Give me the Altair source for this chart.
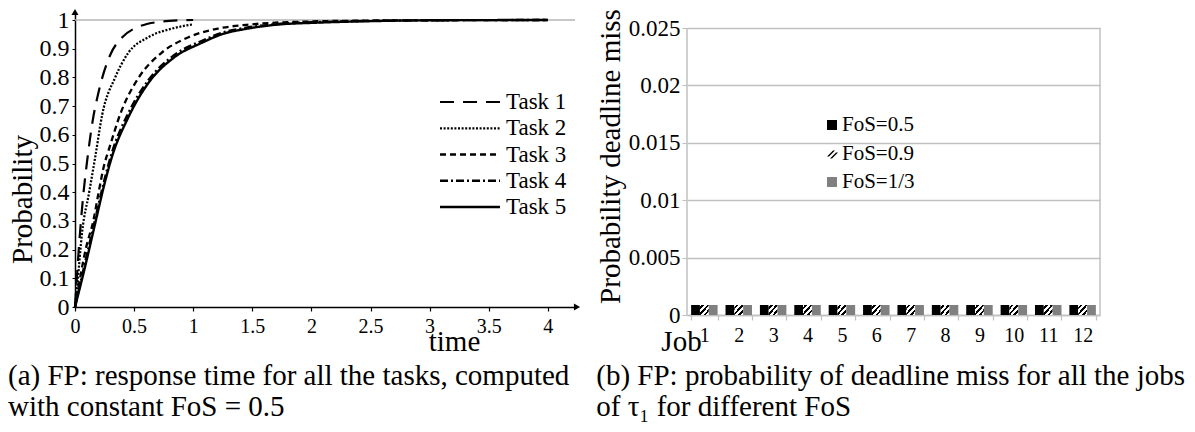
import altair as alt
import pandas as pd

FONT = "Liberation Serif"

# ---------------- left panel data ----------------
tasks = ["Task 1", "Task 2", "Task 3", "Task 4", "Task 5"]
t1 = [0, 0.03, 0.07, 0.1, 0.15, 0.2, 0.3, 0.4, 0.5, 0.6, 0.7, 0.8, 1.0]
p1 = [0, 0.19, 0.39, 0.5, 0.65, 0.75, 0.88, 0.94, 0.97, 0.985, 0.993, 0.997, 1.0]
t2 = [0, 0.02, 0.06, 0.12, 0.17, 0.23, 0.34, 0.45, 0.62, 0.82, 1.0]
p2 = [0, 0.08, 0.26, 0.40, 0.52, 0.67, 0.80, 0.885, 0.94, 0.97, 0.985]
t3 = [0, 0.09, 0.16, 0.2, 0.25, 0.28, 0.39, 0.54, 0.73, 0.96, 1.21, 1.5, 2.0, 2.5, 3.0, 4.0]
p3 = [0, 0.2, 0.31, 0.40, 0.5, 0.54, 0.68, 0.80, 0.885, 0.94, 0.97, 0.985, 0.995, 0.998, 0.999, 1.0]
t4 = [0, 0.085, 0.17, 0.25, 0.31, 0.45, 0.62, 0.84, 1.07, 1.24, 1.46, 1.74, 2.0, 2.5, 3.0, 4.0]
p4 = [0, 0.155, 0.305, 0.445, 0.535, 0.675, 0.79, 0.878, 0.927, 0.955, 0.974, 0.987, 0.992, 0.997, 0.999, 1.0]
t5 = [0, 0.085, 0.17, 0.25, 0.31, 0.45, 0.62, 0.84, 1.07, 1.24, 1.46, 1.74, 2.0, 2.5, 3.0, 4.0]
p5 = [0, 0.14, 0.29, 0.43, 0.52, 0.66, 0.78, 0.87, 0.92, 0.95, 0.97, 0.985, 0.99, 0.996, 0.999, 1.0]
x_ticks_left = [0, 0.5, 1, 1.5, 2, 2.5, 3, 3.5, 4]
y_ticks_left = [0, 0.1, 0.2, 0.3, 0.4, 0.5, 0.6, 0.7, 0.8, 0.9, 1]

# ---------------- right panel data ----------------
jobs = ["1", "2", "3", "4", "5", "6", "7", "8", "9", "10", "11", "12"]
series = ["FoS=0.5", "FoS=0.9", "FoS=1/3"]
v_05 = [0.00087, 0.00087, 0.00087, 0.00087, 0.00087, 0.00087, 0.00087, 0.00087, 0.00087, 0.00087, 0.00087, 0.00087]
v_09 = [0.00087, 0.00087, 0.00087, 0.00087, 0.00087, 0.00087, 0.00087, 0.00087, 0.00087, 0.00087, 0.00087, 0.00087]
v_13 = [0.00087, 0.00087, 0.00087, 0.00087, 0.00087, 0.00087, 0.00087, 0.00087, 0.00087, 0.00087, 0.00087, 0.00087]
y_ticks_right = [0, 0.005, 0.01, 0.015, 0.02, 0.025]
y_frame_right = [0, 0.025]

caption_a = ["(a) FP: response time for all the tasks, computed", "with constant FoS = 0.5"]
caption_b = ["(b) FP: probability of deadline miss for all the jobs", "of τ₁ for different FoS"]

# ---------------- tables ----------------
rows = []
for name, ts, ps in zip(tasks, [t1, t2, t3, t4, t5], [p1, p2, p3, p4, p5]):
    for t, p in zip(ts, ps):
        rows.append({"task": name, "time": t, "prob": p})
lines_df = pd.DataFrame(rows)
legend_left_df = pd.DataFrame({"task": tasks})

brows = []
for s, vals in zip(series, [v_05, v_09, v_13]):
    for j, v in zip(jobs, vals):
        brows.append({"job": j, "series": s, "value": v})
bars_df = pd.DataFrame(brows)
legend_right_df = pd.DataFrame({"series": series})
frame_df = pd.DataFrame({"lo": [y_frame_right[0]], "hi": [y_frame_right[1]]})

# ---------------- left panel ----------------
W1, H1 = 500, 294
x_scale_l = alt.Scale(domain=[0, 4.23], nice=False, zero=False)
y_scale_l = alt.Scale(domain=[0, 1.0244], nice=False)
dash_scale = alt.Scale(domain=tasks, range=[[14, 9], [2, 1.6], [6, 4], [8, 3, 2, 3], [1, 0]])
width_scale = alt.Scale(domain=tasks, range=[2.2, 2.4, 2.4, 2.4, 3.2])

one_line = alt.Chart(pd.DataFrame({"y": [1]})).mark_rule(color="#b4b4b4", strokeWidth=1.5).encode(
    y=alt.Y("y:Q", scale=y_scale_l, axis=None)
)

lines = alt.Chart(lines_df).mark_line(color="black", interpolate="monotone").encode(
    x=alt.X("time:Q", scale=x_scale_l, axis=alt.Axis(
        values=x_ticks_left, format="~g", title="time", titleX=379, titleY=20,
        titleAlign="center", titleBaseline="top", titleFontSize=29, titleFont=FONT,
        titleFontWeight="normal", labelFont=FONT, labelFontSize=20, labelColor="black",
        tickSize=4, tickColor="black", tickWidth=1.2, labelPadding=5, domainColor="black",
        domainWidth=1.5, grid=False, labelFlush=False)),
    y=alt.Y("prob:Q", scale=y_scale_l, axis=alt.Axis(
        values=y_ticks_left, format="~g", title="Probability", titleY=186,
        titleFontSize=29, titleFont=FONT, titleFontWeight="normal", titlePadding=2,
        labelFont=FONT, labelFontSize=24, labelColor="black", tickSize=3,
        tickColor="black", labelPadding=3, domainColor="black", domainWidth=1.5,
        grid=False, labelFlush=False)),
    strokeDash=alt.StrokeDash("task:N", scale=dash_scale, legend=None),
    strokeWidth=alt.StrokeWidth("task:N", scale=width_scale, legend=None),
    detail="task:N",
)

leg_y_l = alt.Y("task:N", sort=tasks, axis=None,
                scale=alt.Scale(type="point", domain=tasks, range=[89, 194], padding=0))
leg_rules = alt.Chart(legend_left_df).mark_rule(color="black").encode(
    x=alt.value(365), x2=alt.value(425), y=leg_y_l,
    strokeDash=alt.StrokeDash("task:N", scale=dash_scale, legend=None),
    strokeWidth=alt.StrokeWidth("task:N", scale=width_scale, legend=None),
)
leg_text = alt.Chart(legend_left_df).mark_text(
    align="left", baseline="middle", font=FONT, fontSize=23, color="black"
).encode(x=alt.value(431), y=leg_y_l, text="task:N")

arrow_r = alt.Chart(pd.DataFrame({"a": [0]})).mark_point(
    shape="triangle-right", filled=True, color="black", size=50, opacity=1
).encode(x=alt.value(W1 + 2), y=alt.value(H1))
arrow_u = alt.Chart(pd.DataFrame({"a": [0]})).mark_point(
    shape="triangle-up", filled=True, color="black", size=50, opacity=1
).encode(x=alt.value(0), y=alt.value(-1))

left = alt.layer(one_line, lines, leg_rules, leg_text, arrow_r, arrow_u).resolve_scale(
    y="independent"
).properties(
    width=W1, height=H1,
    title=alt.TitleParams(text=caption_a, orient="bottom", anchor="start", frame="bounds",
                          font=FONT, fontSize=29, fontWeight="normal", lineHeight=31,
                          offset=6, color="black"),
)

# ---------------- right panel ----------------
W2, H2 = 413, 302
gray = "#c0c0c0"
x_r = alt.X("job:N", sort=jobs, scale=alt.Scale(paddingInner=0.23, paddingOuter=0.12),
            axis=alt.Axis(title="Job", labelAngle=0, tickBand="extent", titleX=-6, titleY=12,
                          titleAlign="center", titleBaseline="top", titleFont=FONT,
                          titleFontSize=29, titleFontWeight="normal", labelFont=FONT,
                          labelFontSize=20, labelColor="black", tickColor=gray, tickSize=5,
                          tickWidth=1.2, labelPadding=5, domainColor=gray, domainWidth=1.5))
xo_r = alt.XOffset("series:N", sort=series,
                   scale=alt.Scale(domain=series, paddingInner=0, paddingOuter=0))
y_scale_r = alt.Scale(domain=[0, 0.026307], nice=False)
y_axis_r = alt.Axis(values=y_ticks_right, format="~g", title="Probability deadline miss",
                    titleY=143, titleFont=FONT, titleFontSize=29, titleFontWeight="normal",
                    titlePadding=3, labelFont=FONT, labelFontSize=23, labelColor="black",
                    tickColor=gray, tickSize=5, labelPadding=2, domain=False,
                    grid=True, gridColor=gray, gridWidth=1.5)
y_r = alt.Y("value:Q", scale=y_scale_r, axis=y_axis_r)

hatch_stops = [(0, "white"), (0.1, "white"), (0.1, "black"), (0.24, "black"), (0.24, "white"),
               (0.4, "white"), (0.4, "black"), (0.54, "black"), (0.54, "white"),
               (0.7, "white"), (0.7, "black"), (0.84, "black"), (0.84, "white"), (1, "white")]
hatch = alt.LinearGradient(
    gradient="linear",
    stops=[alt.GradientStop(color=c, offset=o) for o, c in hatch_stops],
    x1=0, y1=0, x2=1, y2=1,
)

base_bars = alt.Chart(bars_df).encode(x=x_r, xOffset=xo_r, y=y_r)
bars_black = base_bars.transform_filter(alt.datum.series == series[0]).mark_bar(fill="black")
bars_hatch = base_bars.transform_filter(alt.datum.series == series[1]).mark_bar(fill=hatch)
bars_gray = base_bars.transform_filter(alt.datum.series == series[2]).mark_bar(fill="#808080")

frame_left = alt.Chart(frame_df).mark_rule(color=gray, strokeWidth=1.5).encode(
    x=alt.value(0), y=alt.Y("lo:Q", scale=y_scale_r, axis=y_axis_r), y2="hi:Q")
frame_right = alt.Chart(frame_df).mark_rule(color=gray, strokeWidth=1.5).encode(
    x=alt.value(W2), y=alt.Y("lo:Q", scale=y_scale_r, axis=y_axis_r), y2="hi:Q")

bars = alt.layer(frame_left, frame_right, bars_black, bars_hatch, bars_gray)

hatch_path = ("M-1,0.6L0.2,-0.6L0.6,-0.6L-0.6,0.6Z "
              "M-0.4,1L0.8,-0.2L1.2,-0.2L0,1Z")
leg_y_r = alt.Y("series:N", sort=series, axis=None,
                scale=alt.Scale(type="point", domain=series, range=[112, 169], padding=0))
leg_pts = alt.Chart(legend_right_df).mark_point(filled=True, size=100, opacity=1).encode(
    x=alt.value(145), y=leg_y_r,
    shape=alt.Shape("series:N", scale=alt.Scale(domain=series, range=["square", hatch_path, "square"]), legend=None),
    color=alt.Color("series:N", scale=alt.Scale(domain=series, range=["black", "black", "#808080"]), legend=None),
)
leg_txt_r = alt.Chart(legend_right_df).mark_text(
    align="left", baseline="middle", font=FONT, fontSize=21, color="black"
).encode(x=alt.value(155), y=leg_y_r, text="series:N")

legend_r = alt.layer(leg_pts, leg_txt_r)

right = alt.layer(bars, legend_r).resolve_scale(y="independent").properties(
    width=W2, height=H2,
    title=alt.TitleParams(text=caption_b, orient="bottom", anchor="start", frame="bounds",
                          font=FONT, fontSize=29, fontWeight="normal", lineHeight=31,
                          offset=6, color="black"),
)

chart = alt.concat(left, right, columns=2, spacing=15, align="none").properties(
    padding=0
).configure(font=FONT).configure_view(strokeWidth=0)

chart.save("out.html", embed_options={"renderer": "svg", "actions": False})
